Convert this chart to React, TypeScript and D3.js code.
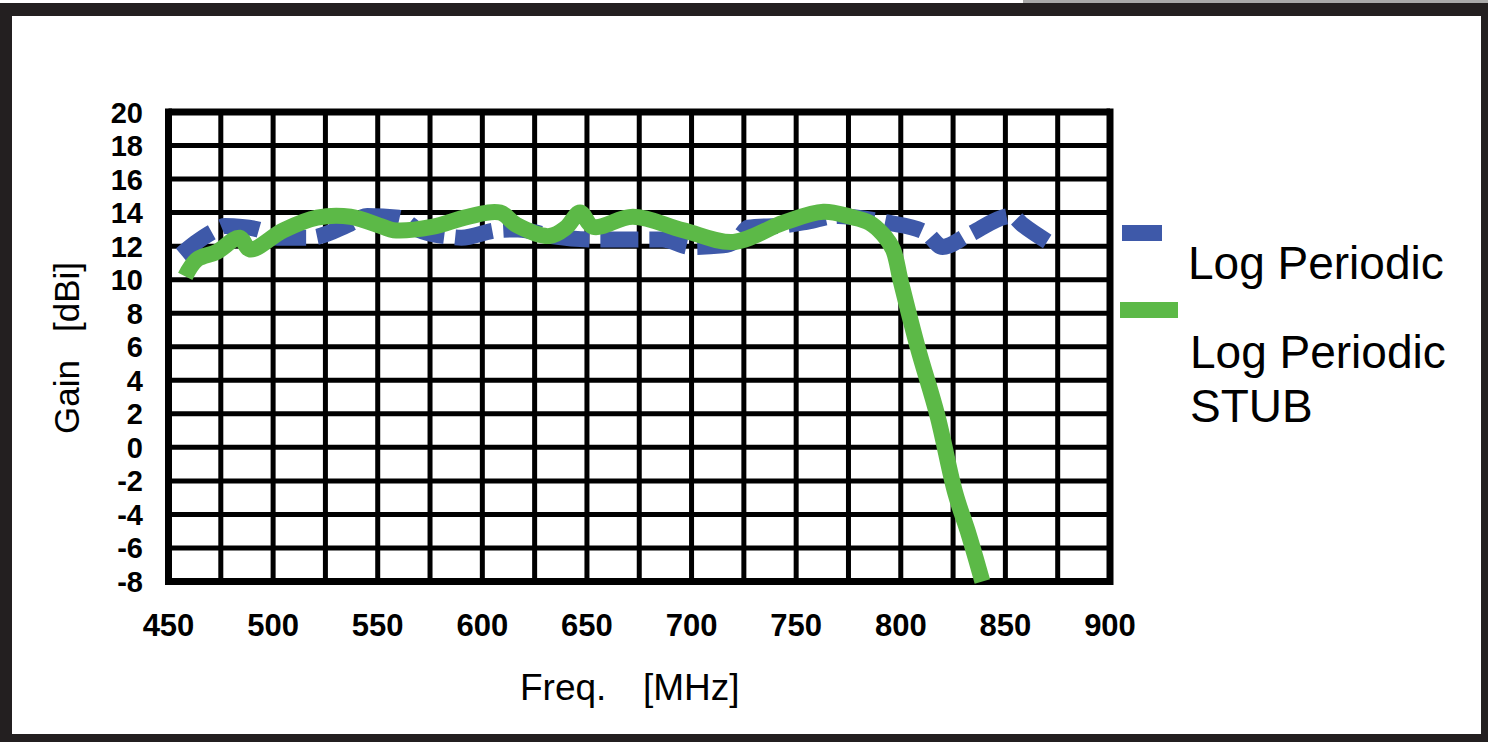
import React from "react";
import * as d3 from "d3";

const xTicks = [450, 500, 550, 600, 650, 700, 750, 800, 850, 900];
const yTicks = [-8, -6, -4, -2, 0, 2, 4, 6, 8, 10, 12, 14, 16, 18, 20];
const seriesNames = ["Log Periodic", "Log Periodic STUB"];

const logPeriodicFreq = [456, 463, 471, 477, 485, 494, 502, 517, 537, 545, 560, 569, 585, 590, 607, 617, 633, 653, 686, 700, 715, 722, 727, 745, 755, 770, 785, 794, 812, 820, 832, 853, 858, 873];
const logPeriodicGain = [11.5, 12.2, 12.85, 13.2, 13.15, 12.95, 12.5, 12.5, 13.35, 13.8, 13.7, 13.0, 12.55, 12.5, 12.95, 13.0, 12.6, 12.4, 12.4, 11.95, 12.05, 12.4, 13.1, 13.25, 13.45, 13.8, 13.6, 13.4, 12.8, 11.95, 12.65, 13.8, 13.3, 12.05];

const stubFreq = [458, 463.6, 473, 484, 489, 505, 521, 537, 552.5, 557.5, 576, 593, 608.5, 616.5, 632, 640, 646.7, 653, 672, 696, 720, 744, 763, 776, 785, 791.5, 796.3, 800, 808, 817.5, 826, 832.5, 839];
const stubGain = [10.2, 11.2, 11.65, 12.5, 11.8, 12.95, 13.7, 13.75, 13.15, 12.95, 13.15, 13.75, 14.0, 13.25, 12.6, 13.1, 14.0, 13.15, 13.75, 12.95, 12.25, 13.4, 14.05, 13.75, 13.4, 12.7, 11.8, 9.9, 6.0, 1.9, -2.7, -5.2, -8.0];

const BLUE = "#3e59a9";
const GREEN = "#5cb947";
const FONT = "'Liberation Sans', Arial, Helvetica, sans-serif";

export default function App() {
  const x = d3.scaleLinear().domain([450, 900]).range([168.5, 1110]);
  const y = d3.scaleLinear().domain([-8, 20]).range([581.5, 112]);

  const gridX = d3.range(450, 901, 25);
  const gridY = d3.range(-8, 21, 2);

  const blueLine = d3
    .line<[number, number]>()
    .x((d) => x(d[0]))
    .y((d) => y(d[1]))
    .curve(d3.curveMonotoneX);
  const greenLine = d3
    .line<[number, number]>()
    .x((d) => x(d[0]))
    .y((d) => y(d[1]))
    .curve(d3.curveCatmullRom.alpha(0.5));

  const blueData: [number, number][] = logPeriodicFreq.map((f, i) => [f, logPeriodicGain[i]]);
  const greenData: [number, number][] = stubFreq.map((f, i) => [f, stubGain[i]]);

  return (
    <svg
      width={1488}
      height={742}
      style={{ position: "absolute", left: 0, top: 0, display: "block" }}
      fontFamily={FONT}
    >
      {/* frame */}
      <rect x={0} y={0} width={1488} height={742} fill="#ffffff" />
      <rect x={1023} y={0} width={465} height={3} fill="#a9a9a9" />
      <rect x={0} y={3} width={1488} height={13} fill="#231f20" />
      <rect x={0} y={3} width={12} height={739} fill="#231f20" />
      <rect x={1481} y={3} width={7} height={739} fill="#231f20" />
      <rect x={0} y={734} width={1488} height={8} fill="#231f20" />

      {/* grid */}
      {gridX.map((v, i) => (
        <line
          key={"gx" + v}
          x1={x(v)}
          x2={x(v)}
          y1={y(-8) + (i === 0 || i === gridX.length - 1 ? 3.5 : 0)}
          y2={y(20) - (i === 0 || i === gridX.length - 1 ? 3.5 : 0)}
          stroke="#000"
          strokeWidth={i === 0 || i === gridX.length - 1 ? 7 : 5}
        />
      ))}
      {gridY.map((v, i) => (
        <line
          key={"gy" + v}
          x1={x(450)}
          x2={x(900)}
          y1={y(v)}
          y2={y(v)}
          stroke="#000"
          strokeWidth={i === 0 || i === gridY.length - 1 ? 7 : 5}
        />
      ))}

      {/* y tick labels */}
      {yTicks.map((t) => (
        <text
          key={"yt" + t}
          x={143}
          y={y(t) + 10.5}
          textAnchor="end"
          fontWeight="bold"
          fontSize={29}
          fill="#000"
        >
          {t}
        </text>
      ))}
      {/* x tick labels */}
      {xTicks.map((t) => (
        <text
          key={"xt" + t}
          x={x(t)}
          y={636}
          textAnchor="middle"
          fontWeight="bold"
          fontSize={31}
          fill="#000"
        >
          {t}
        </text>
      ))}

      {/* axis titles */}
      <text x={520} y={700} fontSize={37} fill="#000">
        Freq.
      </text>
      <text x={643} y={700} fontSize={37} fill="#000">
        [MHz]
      </text>
      <g transform="translate(79,0)">
        <text transform="translate(0,434) rotate(-90)" fontSize={35} fill="#000">
          Gain
        </text>
        <text transform="translate(0,262) rotate(-90)" textAnchor="end" fontSize={35} fill="#000">
          [dBi]
        </text>
      </g>

      {/* series */}
      <path
        d={blueLine(blueData) || ""}
        fill="none"
        stroke={BLUE}
        strokeWidth={16}
        strokeDasharray="38,11"
        strokeLinejoin="round"
      />
      <path
        d={greenLine(greenData) || ""}
        fill="none"
        stroke={GREEN}
        strokeWidth={16}
        strokeLinejoin="round"
      />

      {/* legend */}
      <rect x={1122} y={225} width={40} height={16} fill={BLUE} />
      <text x={1188} y={279} fontSize={46} fill="#000">
        {seriesNames[0]}
      </text>
      <rect x={1120} y={302} width={58} height={16} fill={GREEN} />
      <text x={1190} y={368} fontSize={46} fill="#000">
        {"Log Periodic"}
      </text>
      <text x={1190} y={422} fontSize={46} fill="#000">
        {"STUB"}
      </text>
    </svg>
  );
}
